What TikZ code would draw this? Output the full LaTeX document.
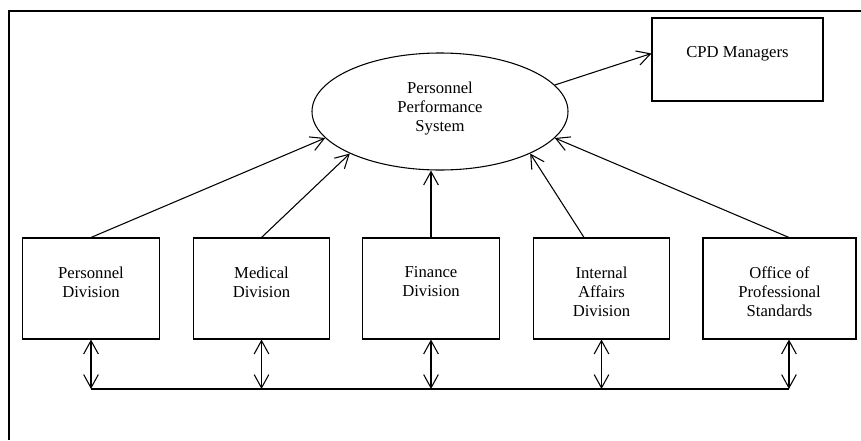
\documentclass[tikz,border=0pt]{standalone}
\usepackage{fontspec}
\setmainfont{Liberation Serif}
\usetikzlibrary{positioning}
\usetikzlibrary{arrows.meta}
\usetikzlibrary{shapes.geometric}
\tikzstyle{bx}=[draw,rectangle,minimum width=102.5pt,minimum height=75.75pt,line width=0.8pt]
\tikzstyle{ell}=[draw,ellipse,minimum width=192pt,minimum height=87.75pt,line width=0.8pt]
\tikzstyle{tx}=[align=center,font=\fontsize{12.5}{14.25}\selectfont]
\tikzstyle{ln}=[line width=0.8pt,>={Straight Barb[length=10pt,width=11pt]}]

\begin{document}
\begin{tikzpicture}[x=0.75pt,y=-0.75pt]
%      \draw [help lines] (0,0) grid (861,440);
      \useasboundingbox (0,0) rectangle (861,440);
      \draw [line width=1.5pt] (9,440) -- (9,11) -- (861,11);
      \node [ell] (pps) at (440,111.5) {};
      \node [bx, minimum width=128.25pt, minimum height=62.25pt] (cpd) at (737.5,59.5) {};
      \node [bx] (pd) at (91,288.5) {};
      \node [bx] (md) at (261.5,288.5) {};
      \node [bx] (fd) at (431,288.5) {};
      \node [bx] (ia) at (601.5,288.5) {};
      \node [bx, minimum width=114.75pt] (op) at (779.5,288.5) {};
      % texts, set from the top of each shape
      \node [tx, below=18.5pt of pps.north] (pps-t) {Personnel\\Performance\\System};
      \node [tx, below=18.5pt of cpd.north] (cpd-t) {CPD Managers};
      \node [tx, below=18.5pt of pd.north] (pd-t) {Personnel\\Division};
      \node [tx, below=18.5pt of md.north] (md-t) {Medical\\Division};
      \node [tx, below=18.5pt of fd.north] (fd-t) {Finance\\Division};
      \node [tx, below=18.5pt of ia.north] (ia-t) {Internal\\Affairs\\Division};
      \node [tx, below=18.5pt of op.north] (op-t) {Office of\\Professional\\Standards};
      \coordinate (ia-a) at ([xshift=-13.1pt]ia.north);
      \coordinate (op-a) at ([xshift=7.1pt]op.north);
      \coordinate (op-b) at ([xshift=7.1pt]op.south);
      \coordinate (bus) at (0,389);
      % reports into the system
      \draw [ln,->] (pd.north) -- (pps.193);
      \draw [ln,->] (md.north) -- (pps.205);
      \draw [ln,->] (fd.north) -- (fd.north |- pps.south);
      \draw [ln,->] (ia-a) -- (pps.335);
      \draw [ln,->] (op-a) -- (pps.347);
      \draw [ln,->] (pps.13) -- (cpd.176);
      % links between the divisions
      \draw [ln,<->] (pd.south) -- (pd.south |- bus);
      \draw [ln,<->] (md.south) -- (md.south |- bus);
      \draw [ln,<->] (fd.south) -- (fd.south |- bus);
      \draw [ln,<->] (ia.south) -- (ia.south |- bus);
      \draw [ln,<->] (op-b) -- (op-b |- bus);
      \draw [ln] (pd.south |- bus) -- (op-b |- bus);
\end{tikzpicture}
\end{document}
